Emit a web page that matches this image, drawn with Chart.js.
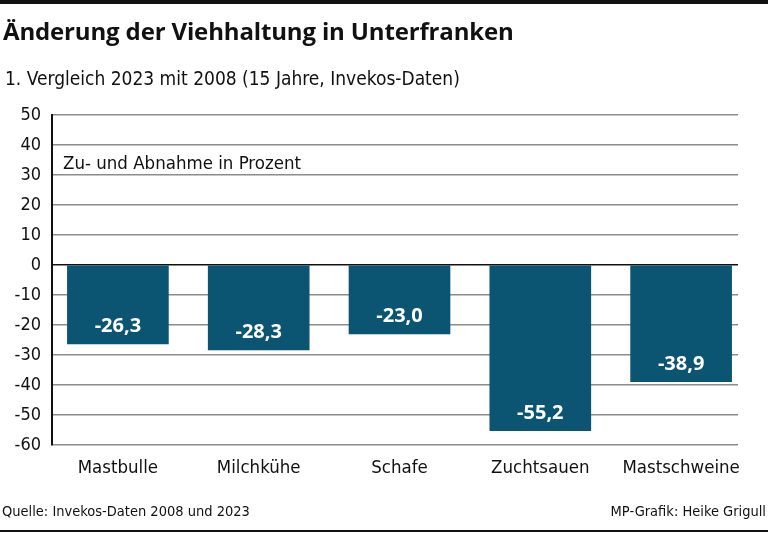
<!DOCTYPE html>
<html>
<head>
<meta charset="utf-8">
<script src="https://cdn.jsdelivr.net/npm/chart.js@4"></script>
<style>
  html, body { margin: 0; padding: 0; background: #fff; }
  #wrap { position: relative; width: 768px; height: 533px; overflow: hidden; }
  #topline { position: absolute; left: 0; top: 0; width: 768px; height: 4px; background: #111; }
  #botline { position: absolute; left: 0; top: 530px; width: 768px; height: 2px; background: #111; }
  .txt { position: absolute; white-space: nowrap; color: #111; }
  #title { left: 3px; top: 14px; font: 700 24px "Open Sans", sans-serif; letter-spacing: -0.15px; }
  #subtitle { left: 5px; top: 67px; font: 19px "Liberation Sans Narrow", "DejaVu Sans Condensed", sans-serif; }
  #source { left: 2px; top: 503px; font: 14.5px "Liberation Sans Narrow", "DejaVu Sans Condensed", sans-serif; }
  #credit { right: 2px; top: 503px; font: 14.5px "Liberation Sans Narrow", "DejaVu Sans Condensed", sans-serif; }
  canvas { position: absolute; left: 0; top: 0; }
</style>
</head>
<body>
<div id="wrap">
  <canvas id="chart" width="768" height="533"></canvas>
  <div id="topline"></div>
  <div id="botline"></div>
  <div class="txt" id="title">Änderung der Viehhaltung in Unterfranken</div>
  <div class="txt" id="subtitle">1. Vergleich 2023 mit 2008 (15 Jahre, Invekos-Daten)</div>
  <div class="txt" id="source">Quelle: Invekos-Daten 2008 und 2023</div>
  <div class="txt" id="credit">MP-Grafik: Heike Grigull</div>
</div>
<script>
(() => {
  // Daten
  const categories = ["Mastbulle", "Milchkühe", "Schafe", "Zuchtsauen", "Mastschweine"];
  const changes = [-26.3, -28.3, -23.0, -55.2, -38.9];
  const yTicks = [50, 40, 30, 20, 10, 0, -10, -20, -30, -40, -50, -60];

  const narrow = '"Liberation Sans Narrow", "DejaVu Sans Condensed", sans-serif';
  const barColor = "#0b5573";

  // Plugin: Werte in den Balken + Achsentext
  const labelPlugin = {
    id: "barLabels",
    afterDatasetsDraw: (chart) => {
      const ctx = chart.ctx;
      const meta = chart.getDatasetMeta(0);
      ctx.save();
      ctx.font = 'bold 20px "Open Sans", sans-serif';
      ctx.fillStyle = "#fff";
      ctx.textAlign = "center";
      ctx.textBaseline = "alphabetic";
      meta.data.forEach((bar, i) => {
        const txt = changes[i].toFixed(1).replace(".", ",");
        ctx.fillText(txt, bar.x, bar.y - 12);
      });
      ctx.font = "18.5px " + narrow;
      ctx.fillStyle = "#111";
      ctx.textAlign = "left";
      ctx.textBaseline = "middle";
      ctx.fillText("Zu- und Abnahme in Prozent", chart.chartArea.left + 11, chart.scales.y.getPixelForValue(33.7));
      ctx.restore();
    }
  };

  new Chart(document.getElementById("chart"), {
    type: "bar",
    data: {
      datasets: [{
        data: changes.map((v, i) => ({ x: i, y: v })),
        backgroundColor: barColor,
        barThickness: 101,
        borderWidth: 0
      }]
    },
    options: {
      responsive: false,
      animation: false,
      layout: { padding: { top: 115, right: 30, bottom: 38, left: 0 } },
      plugins: {
        legend: { display: false },
        tooltip: { enabled: false }
      },
      scales: {
        x: {
          type: "linear",
          offset: false,
          min: -0.468,
          max: 4.404,
          afterFit: (s) => { s.height = 50; },
          grid: { display: false },
          border: { display: false },
          ticks: {
            stepSize: 1,
            includeBounds: false,
            padding: 4,
            color: "#111",
            font: { family: narrow, size: 18.5 },
            callback: (v) => categories[v] ?? ""
          }
        },
        y: {
          min: -60,
          max: 50,
          afterFit: (s) => { s.width = 52; },
          afterBuildTicks: (s) => { s.ticks = yTicks.map(v => ({ value: v })); },
          border: { display: true, color: "#111", width: 2 },
          grid: {
            drawTicks: false,
            color: (c) => c.tick && c.tick.value === 0 ? "#111" : "#8c8c8c",
            lineWidth: 1.5
          },
          ticks: {
            padding: 11,
            color: "#111",
            font: { family: narrow, size: 18 }
          }
        }
      }
    },
    plugins: [labelPlugin]
  });
})();
</script>
</body>
</html>
